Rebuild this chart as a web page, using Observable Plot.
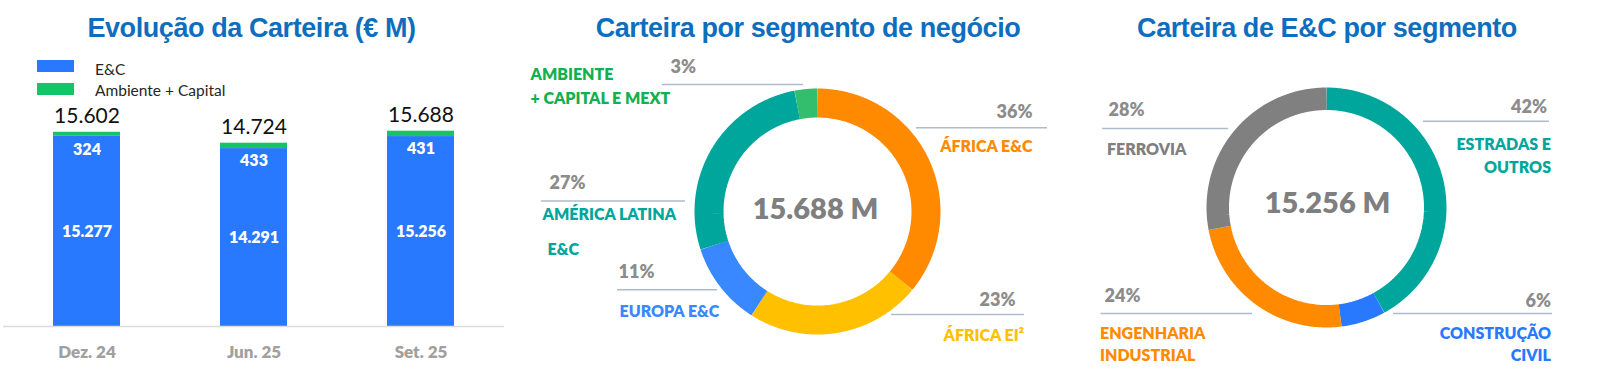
<!DOCTYPE html>
<html>
<head>
<meta charset="utf-8">
<script src="https://cdn.jsdelivr.net/npm/d3@7"></script>
<script src="https://cdn.jsdelivr.net/npm/@observablehq/plot@0.6"></script>
<style>
  html, body { margin: 0; padding: 0; background: #fff; }
  #root { position: relative; width: 1598px; height: 377px; overflow: hidden; font-family: Lato, "Open Sans", sans-serif; }
  .title { position: absolute; top: 15px; transform: translateX(-50%); white-space: nowrap;
           font-family: "Liberation Sans", Arial, sans-serif; font-weight: bold; font-size: 27px;
           line-height: 27px; letter-spacing: -0.42px; color: #0E6EBE; }
  .panel { position: absolute; top: 0; }
  .sw { position: absolute; width: 37px; height: 12px; }
  .lg { position: absolute; font-size: 15.5px; line-height: 16px; color: #262626; white-space: nowrap; }
</style>
</head>
<body>
<div id="root"></div>
<script>
// ---------------- data ----------------
const periods = ["Dez. 24", "Jun. 25", "Set. 25"];
const seriesNames = ["E&C", "Ambiente + Capital"];
const ecValues = [15277, 14291, 15256];
const ambValues = [324, 433, 431];
const totals = [15602, 14724, 15688];

const titles = ["Evolução da Carteira (€ M)", "Carteira por segmento de negócio", "Carteira de E&C por segmento"];

const segNames = ["ÁFRICA E&C", "ÁFRICA EI²", "EUROPA E&C", "AMÉRICA LATINA E&C", "AMBIENTE + CAPITAL E MEXT"];
const segShares = [36, 23, 11, 27, 3];
const segLabelLines = [["ÁFRICA E&C"], ["ÁFRICA EI²"], ["EUROPA E&C"], ["AMÉRICA LATINA", "E&C"], ["AMBIENTE", "+ CAPITAL E MEXT"]];

const ecSegNames = ["ESTRADAS E OUTROS", "CONSTRUÇÃO CIVIL", "ENGENHARIA INDUSTRIAL", "FERROVIA"];
const ecSegShares = [42, 6, 24, 28];
const ecSegLabelLines = [["ESTRADAS E", "OUTROS"], ["CONSTRUÇÃO", "CIVIL"], ["ENGENHARIA", "INDUSTRIAL"], ["FERROVIA"]];

// ---------------- styles ----------------
const barColors = ["#2979FF", "#14C466"];
const segRingColors = ["#FF8A00", "#FFC000", "#3A88FF", "#00A59B", "#33BE6E"];
const segTextColors = ["#FF8A00", "#FFC000", "#3A88FF", "#00A59B", "#12B04E"];
const ecRingColors = ["#00A69C", "#2979FF", "#FF8A00", "#808080"];
const ecTextColors = ["#00A69C", "#2979FF", "#FF8A00", "#7F7F7F"];
const pctColor = "#8C8C8C";
const centerColor = "#7F7F7F";
const leaderColor = "#AEBBCA";
const heavy = 800;

// ---------------- layout ----------------
const titleCenters = [251.5, 808, 1327];
const donutGeom = [
  {cx: 817, cy: 211, r: 108.5, w: 29, tx: 815, ty: 209.5},
  {cx: 1326, cy: 207, r: 108.75, w: 22.5, tx: 1327, ty: 203.5}
];
const segLabelLayout = [
  {px: 1032, py: 111.5, a: "end", rx1: 916, rx2: 1047, ry: 127.3, nx: 1032, ny: [146.5]},
  {px: 1015, py: 299.5, a: "end", rx1: 891, rx2: 1024, ry: 314, nx: 1023.5, ny: [335]},
  {px: 618, py: 271.5, a: "start", rx1: 617, rx2: 717, ry: 289.3, nx: 619, ny: [311]},
  {px: 549, py: 182.5, a: "start", rx1: 541, rx2: 685, ry: 200.5, nx: 542, ny: [214.5, 249], nx2: 547},
  {px: 670, py: 66.5, a: "start", rx1: 662, rx2: 803, ry: 84, nx: 530, ny: [74, 98]}
];
const ecLabelLayout = [
  {px: 1546.5, py: 106.5, a: "end", rx1: 1423, rx2: 1549, ry: 120.7, nx: 1550.5, ny: [144.5, 167]},
  {px: 1550.5, py: 300.5, a: "end", rx1: 1393, rx2: 1552, ry: 313, nx: 1550.5, ny: [333, 355.5]},
  {px: 1104, py: 295.5, a: "start", rx1: 1100.5, rx2: 1252, ry: 313, nx: 1099.5, ny: [333, 355.5]},
  {px: 1108, py: 109.5, a: "start", rx1: 1102, rx2: 1228, ry: 128, nx: 1106.5, ny: [149]}
];

const fmt = d3.formatLocale({decimal: ",", thousands: ".", grouping: [3], currency: ["", ""]}).format(",d");

const root = document.getElementById("root");

titles.forEach((t, i) => {
  const d = document.createElement("div");
  d.className = "title";
  d.style.left = titleCenters[i] + "px";
  d.textContent = t;
  root.appendChild(d);
});

[[60, 69], [83, 90]].forEach(([sy, ty], i) => {
  const s = document.createElement("div");
  s.className = "sw"; s.style.left = "37px"; s.style.top = sy + "px"; s.style.background = barColors[i];
  root.appendChild(s);
  const l = document.createElement("div");
  l.className = "lg"; l.style.left = "95px"; l.style.top = (ty - 8) + "px"; l.textContent = seriesNames[i];
  root.appendChild(l);
});

// ---------------- bar chart ----------------
const rows = periods.flatMap((p, i) => [
  {period: p, series: seriesNames[0], value: ecValues[i]},
  {period: p, series: seriesNames[1], value: ambValues[i]}
]);
const bars = periods.map((p, i) => ({period: p, ec: ecValues[i], amb: ambValues[i], total: totals[i]}));

const barPlot = Plot.plot({
  width: 504, height: 377,
  marginLeft: 3, marginRight: 0, marginTop: 77, marginBottom: 51,
  style: {fontFamily: "Lato, 'Open Sans', sans-serif", background: "transparent", overflow: "visible"},
  x: {domain: periods, paddingInner: 0.6, paddingOuter: 0.3, label: null},
  y: {domain: [0, 20000], axis: null},
  color: {domain: seriesNames, range: barColors},
  marks: [
    Plot.barY(rows, {x: "period", y: "value", fill: "series"}),
    Plot.ruleY([0], {stroke: "#DCDCDC", strokeWidth: 1.5}),
    Plot.text(bars, {x: "period", y: d => d.ec / 2, text: d => fmt(d.ec), fill: "white", fontWeight: heavy, fontSize: 16}),
    Plot.text(bars, {x: "period", y: d => d.ec + d.amb, dy: 18, text: d => fmt(d.amb), fill: "white", fontWeight: heavy, fontSize: 16}),
    Plot.text(bars, {x: "period", y: d => d.ec + d.amb, dy: -16, text: d => fmt(d.total), fill: "#111", fontSize: 21}),
    Plot.axisX({tickSize: 0, tickPadding: 19, fontSize: 17, fontWeight: heavy, color: "#A0A0A0", label: null})
  ]
});
barPlot.classList.add("panel");
barPlot.style.left = "0px";
root.appendChild(barPlot);

// ---------------- donuts ----------------
function ringPoints(names, shares, g) {
  const arcs = d3.pie().sort(null).value(d => d)(shares);
  return arcs.flatMap((a, i) => {
    const n = Math.max(2, Math.ceil((a.endAngle - a.startAngle) / (Math.PI / 180)) + 1);
    return d3.range(n).map(k => {
      const t = a.startAngle + (a.endAngle - a.startAngle) * k / (n - 1);
      return {name: names[i], x: g.cx + g.r * Math.sin(t), y: g.cy - g.r * Math.cos(t)};
    });
  });
}

function labelMarks(names, shares, lines, textColors, layout) {
  return names.flatMap((name, i) => {
    const L = layout[i];
    const marks = [
      Plot.ruleY([L.ry], {x1: L.rx1, x2: L.rx2, stroke: leaderColor, strokeWidth: 1.5}),
      Plot.text([shares[i]], {x: () => L.px, y: () => L.py, text: d => d + "%", textAnchor: L.a, fill: pctColor, fontWeight: heavy, fontSize: 18})
    ];
    lines[i].forEach((t, j) => {
      const nx = (j > 0 && L.nx2 != null) ? L.nx2 : L.nx;
      marks.push(Plot.text([t], {x: () => nx, y: () => L.ny[j], text: d => d, textAnchor: L.a, fill: textColors[i], fontWeight: heavy, fontSize: 16}));
    });
    return marks;
  });
}

const X0 = 480, W = 1598 - X0;
const donutPlot = Plot.plot({
  width: W, height: 377, margin: 0,
  style: {fontFamily: "Lato, 'Open Sans', sans-serif", background: "transparent", overflow: "visible"},
  x: {domain: [X0, 1598], range: [0, W], axis: null},
  y: {domain: [0, 377], range: [0, 377], axis: null},
  color: {domain: [...segNames, ...ecSegNames], range: [...segRingColors, ...ecRingColors]},
  marks: [
    Plot.line(ringPoints(segNames, segShares, donutGeom[0]), {x: "x", y: "y", z: "name", stroke: "name", strokeWidth: donutGeom[0].w, strokeLinecap: "butt", strokeLinejoin: "miter"}),
    Plot.line(ringPoints(ecSegNames, ecSegShares, donutGeom[1]), {x: "x", y: "y", z: "name", stroke: "name", strokeWidth: donutGeom[1].w, strokeLinecap: "butt", strokeLinejoin: "miter"}),
    Plot.text([totals[2]], {x: () => donutGeom[0].tx, y: () => donutGeom[0].ty, text: d => fmt(d) + " M", fill: centerColor, fontWeight: heavy, fontSize: 29}),
    Plot.text([ecValues[2]], {x: () => donutGeom[1].tx, y: () => donutGeom[1].ty, text: d => fmt(d) + " M", fill: centerColor, fontWeight: heavy, fontSize: 29}),
    ...labelMarks(segNames, segShares, segLabelLines, segTextColors, segLabelLayout),
    ...labelMarks(ecSegNames, ecSegShares, ecSegLabelLines, ecTextColors, ecLabelLayout)
  ]
});
donutPlot.classList.add("panel");
donutPlot.style.left = X0 + "px";
root.appendChild(donutPlot);
</script>
</body>
</html>
